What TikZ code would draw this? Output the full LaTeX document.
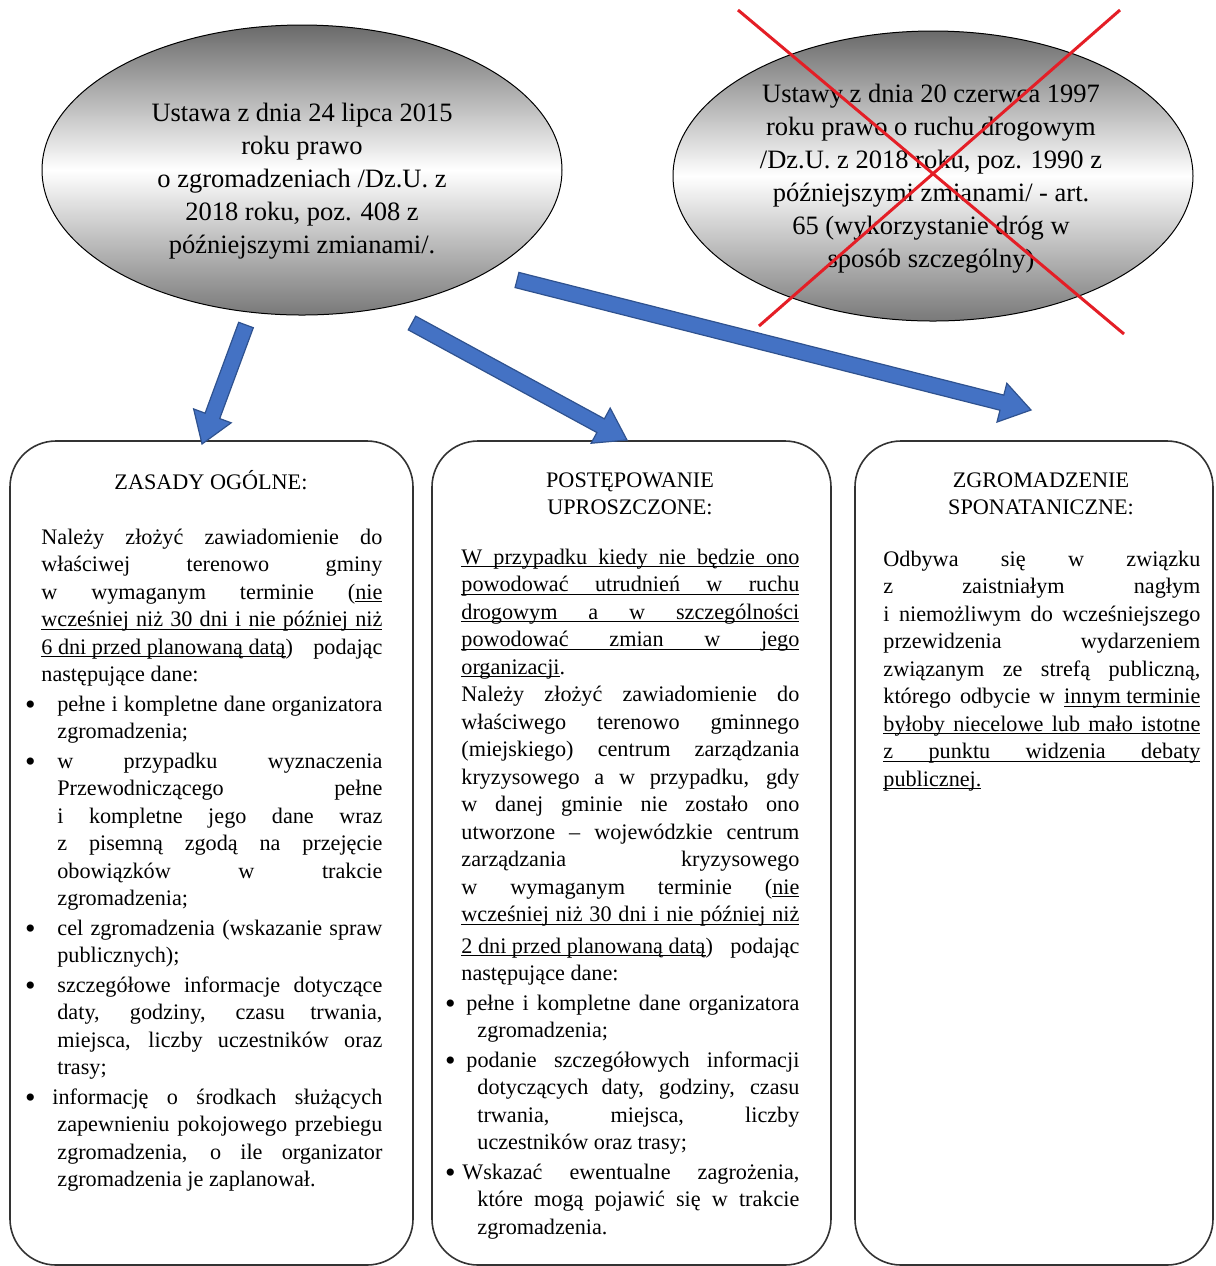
\documentclass[tikz,border=0pt]{standalone}
\usepackage{fontspec}
\setmainfont{Liberation Serif}
\usetikzlibrary{shapes.geometric,calc}
\definecolor{arrowblue}{HTML}{4472C4}
\definecolor{arrowedge}{HTML}{2F528F}
\definecolor{xred}{HTML}{E41E26}
\definecolor{ellgray}{HTML}{6A6A6A}
\newcommand\ul[1]{\setbox0\hbox{#1}\rlap{\rule[-1.7pt]{\wd0}{0.5pt}}\box0}
\newcommand\jl[2]{\noindent\hspace*{#1}\makebox[\dimexpr\linewidth-#1\relax][s]{#2}\par}
\newcommand\ujl[2]{\noindent\hspace*{#1}\ul{\makebox[\dimexpr\linewidth-#1\relax][s]{#2}}\par}
\newcommand\rl[2]{\noindent\hspace*{#1}#2\par}
\newcommand\bu{\llap{\makebox[0pt]{\raisebox{-1.6pt}{\fontsize{15pt}{15pt}\selectfont\textbullet}}\hspace{5.5pt}}}
\newcommand\bjl[2]{\vspace{1pt}\noindent\bu\hspace*{#1}\makebox[\dimexpr\linewidth-#1\relax][s]{#2}\par}
\newcommand\bodyfont{\fontsize{11.1pt}{13.75pt}\selectfont}
\newcommand\ellfont{\fontsize{13.25pt}{16.5pt}\selectfont}
\tikzset{
  ell/.style={ellipse, draw=black, line width=0.5pt, minimum width=260pt, minimum height=145pt,
    inner sep=0pt, top color=ellgray, bottom color=ellgray!90, middle color=white},
  elltext/.style={align=center, font=\ellfont, inner sep=0pt},
  panel/.style={draw=black!80, line width=0.8pt, rounded corners=23pt, minimum height=412pt, inner sep=0pt},
  ptitle/.style={align=center, font=\bodyfont, inner sep=0pt},
  pbody/.style={anchor=base west, inner sep=0pt},
  xline/.style={draw=xred, line width=1.5pt},
  barrowstyle/.style={fill=arrowblue, draw=arrowedge, line width=0.6pt, line join=miter},
}
\newcommand\blockarrow[2]{%
  \coordinate (tmpC) at ($(#2)!15pt!(#1)$);
  \path[barrowstyle] ($(#1)!3.9pt!90:(#2)$) -- ($(tmpC)!3.9pt!90:(#2)$) -- ($(tmpC)!10pt!90:(#2)$) -- (#2)
     -- ($(tmpC)!10pt!-90:(#2)$) -- ($(tmpC)!3.9pt!-90:(#2)$) -- ($(#1)!3.9pt!-90:(#2)$) -- cycle;}
\begin{document}
\begin{tikzpicture}[x=0.5pt,y=-0.5pt]
\path[use as bounding box, fill=white] (0,0) rectangle (1216,1266);

% panels
\node[panel, minimum width=201.5pt] (b1) at (211.5,853) {};
\node[panel, minimum width=199.5pt] (b2) at (631.5,853) {};
\node[panel, minimum width=179pt] (b3) at (1034,853) {};

% arrows
\coordinate (a1s) at (246,325); \coordinate (a1e) at (202,444);
\coordinate (a2s) at (412,323); \coordinate (a2e) at (627,440);
\coordinate (a3s) at (517,280); \coordinate (a3e) at (1031,410);
\blockarrow{a1s}{a1e}
\blockarrow{a2s}{a2e}
\blockarrow{a3s}{a3e}

% ellipses
\node[ell] (e1) at (302,170) {};
\node[elltext] (e1t) at (302,181) {Ustawa z dnia 24 lipca 2015\\roku prawo\\o zgromadzeniach /Dz.U. z\\2018 roku, poz. 408 z\\późniejszymi zmianami/.};
\node[ell] (e2) at (933,176) {};
\node[elltext] (e2t) at (931,179) {Ustawy z dnia 20 czerwca 1997\\roku prawo o ruchu drogowym\\/Dz.U. z 2018 roku, poz. 1990 z\\późniejszymi zmianami/ - art.\\65 (wykorzystanie dróg w\\sposób szczególny)};

% red cross
\coordinate (x1a) at (738,10); \coordinate (x1b) at (1124,334);
\coordinate (x2a) at (1120,10); \coordinate (x2b) at (759,326);
\draw[xline] (x1a) -- (x1b);
\draw[xline] (x2a) -- (x2b);

% titles
\node[ptitle] (t1) at (211,480) {ZASADY OGÓLNE:};
\node[ptitle] (t2) at (630,494) {POSTĘPOWANIE\\UPROSZCZONE:};
\node[ptitle] (t3) at (1041,494) {ZGROMADZENIE\\SPONATANICZNE:};

% left body
\node[pbody] (p1) at (41,544) {\parbox[t]{170.5pt}{\bodyfont
\jl{0pt}{Należy złożyć zawiadomienie do}
\jl{0pt}{właściwej terenowo gminy}
\jl{0pt}{w wymaganym terminie (\ul{nie}}
\ujl{0pt}{wcześniej niż 30 dni i nie później niż}
\jl{0pt}{\ul{6 dni przed planowaną datą}) podając}
\rl{0pt}{następujące dane:}
\bjl{8pt}{pełne i kompletne dane organizatora}
\rl{8pt}{zgromadzenia;}
\bjl{8pt}{w przypadku wyznaczenia}
\jl{8pt}{Przewodniczącego pełne}
\jl{8pt}{i kompletne jego dane wraz}
\jl{8pt}{z pisemną zgodą na przejęcie}
\jl{8pt}{obowiązków w trakcie}
\rl{8pt}{zgromadzenia;}
\bjl{8pt}{cel zgromadzenia (wskazanie spraw}
\rl{8pt}{publicznych);}
\bjl{8pt}{szczegółowe informacje dotyczące}
\jl{8pt}{daty, godziny, czasu trwania,}
\jl{8pt}{miejsca, liczby uczestników oraz}
\rl{8pt}{trasy;}
\bjl{5.5pt}{informację o środkach służących}
\jl{8pt}{zapewnieniu pokojowego przebiegu}
\jl{8pt}{zgromadzenia, o ile organizator}
\rl{8pt}{zgromadzenia je zaplanował.}
}};

% middle body
\node[pbody] (p2) at (461,564) {\parbox[t]{169pt}{\bodyfont
\ujl{0pt}{W przypadku kiedy nie będzie ono}
\ujl{0pt}{powodować utrudnień w ruchu}
\ujl{0pt}{drogowym a w szczególności}
\ujl{0pt}{powodować zmian w jego}
\rl{0pt}{\ul{organizacji}.}
\jl{0pt}{Należy złożyć zawiadomienie do}
\jl{0pt}{właściwego terenowo gminnego}
\jl{0pt}{(miejskiego) centrum zarządzania}
\jl{0pt}{kryzysowego a w przypadku, gdy}
\jl{0pt}{w danej gminie nie zostało ono}
\jl{0pt}{utworzone – wojewódzkie centrum}
\jl{0pt}{zarządzania kryzysowego}
\jl{0pt}{w wymaganym terminie (\ul{nie}}
\ujl{0pt}{wcześniej niż 30 dni i nie później niż}
\vspace{2pt}
\jl{0pt}{\ul{2 dni przed planowaną datą}) podając}
\rl{0pt}{następujące dane:}
\bjl{2.5pt}{pełne i kompletne dane organizatora}
\rl{8pt}{zgromadzenia;}
\bjl{2.5pt}{podanie szczegółowych informacji}
\jl{8pt}{dotyczących daty, godziny, czasu}
\jl{8pt}{trwania, miejsca, liczby}
\rl{8pt}{uczestników oraz trasy;}
\bjl{0.5pt}{Wskazać ewentualne zagrożenia,}
\jl{8pt}{które mogą pojawić się w trakcie}
\rl{8pt}{zgromadzenia.}
}};

% right body
\node[pbody] (p3) at (883,566) {\parbox[t]{158.5pt}{\bodyfont
\jl{0pt}{Odbywa się w związku}
\jl{0pt}{z zaistniałym nagłym}
\jl{0pt}{i niemożliwym do wcześniejszego}
\jl{0pt}{przewidzenia wydarzeniem}
\jl{0pt}{związanym ze strefą publiczną,}
\jl{0pt}{którego odbycie w \ul{innym terminie}}
\ujl{0pt}{byłoby niecelowe lub mało istotne}
\ujl{0pt}{z punktu widzenia debaty}
\rl{0pt}{\ul{publicznej.}}
}};
\end{tikzpicture}
\end{document}
